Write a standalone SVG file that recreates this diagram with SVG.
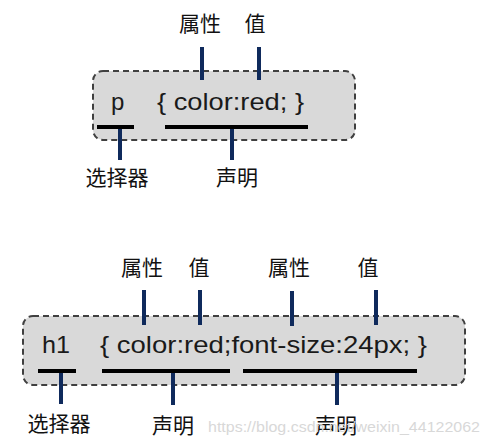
<svg xmlns="http://www.w3.org/2000/svg" width="489" height="445" viewBox="0 0 489 445">
<style>
.box{fill:#d9d9d9;stroke:#404040;stroke-width:2;stroke-dasharray:6 4}
.code{font-family:"Liberation Sans",Arial,sans-serif;font-size:24px;fill:#1a1a1a}
.lbl{font-family:"Noto Sans CJK SC",sans-serif;font-size:21px;fill:#111}
.nv{stroke:#0f2a5c;stroke-width:4}
.ul{stroke:#000;stroke-width:4}
.wm{font-family:"Liberation Sans",Arial,sans-serif;font-size:15px;fill:#d8d8d8}
</style>
<rect width="489" height="445" fill="#fff"/>
<g id="rule1">
<rect class="box" x="93" y="71" width="262" height="69" rx="10"/>
<text class="code" x="111" y="110">p</text>
<text class="code" x="157" y="110" textLength="147" lengthAdjust="spacingAndGlyphs">{ color:red; }</text>
</g>
<g id="labels1">
<text class="lbl" x="200" y="31" text-anchor="middle">属性</text>
<text class="lbl" x="255" y="31" text-anchor="middle">值</text>
<text class="lbl" x="117" y="185" text-anchor="middle">选择器</text>
<text class="lbl" x="237" y="185" text-anchor="middle">声明</text>
</g>
<g id="rule2">
<rect class="box" x="23" y="316" width="442" height="69" rx="10"/>
<text class="code" x="42" y="353" textLength="28" lengthAdjust="spacingAndGlyphs">h1</text>
<text class="code" x="100" y="353" textLength="327" lengthAdjust="spacingAndGlyphs">{ color:red;font-size:24px; }</text>
</g>
<g id="labels2">
<text class="lbl" x="142" y="275" text-anchor="middle">属性</text>
<text class="lbl" x="199" y="275" text-anchor="middle">值</text>
<text class="lbl" x="289" y="275" text-anchor="middle">属性</text>
<text class="lbl" x="368" y="275" text-anchor="middle">值</text>
<text class="lbl" x="59" y="431" text-anchor="middle">选择器</text>
<text class="lbl" x="173" y="433" text-anchor="middle">声明</text>
<text class="lbl" x="336" y="433" text-anchor="middle">声明</text>
</g>
<g id="connectors">
<line class="nv" x1="202" y1="47" x2="202" y2="80"/>
<line class="nv" x1="259" y1="47" x2="259" y2="80"/>
<line class="ul" x1="97" y1="127" x2="134" y2="127"/>
<line class="ul" x1="165" y1="127" x2="308" y2="127"/>
<line class="nv" x1="120" y1="129" x2="120" y2="160"/>
<line class="nv" x1="232" y1="129" x2="232" y2="160"/>
<line class="nv" x1="144" y1="290" x2="144" y2="325"/>
<line class="nv" x1="200" y1="290" x2="200" y2="325"/>
<line class="nv" x1="292" y1="291" x2="292" y2="326"/>
<line class="nv" x1="376" y1="290" x2="376" y2="325"/>
<line class="ul" x1="38" y1="371" x2="76" y2="371"/>
<line class="ul" x1="102" y1="371" x2="230" y2="371"/>
<line class="ul" x1="243" y1="371" x2="417" y2="371"/>
<line class="nv" x1="61" y1="373" x2="61" y2="404"/>
<line class="nv" x1="173" y1="373" x2="173" y2="405"/>
<line class="nv" x1="337" y1="373" x2="337" y2="405"/>
</g>
<text class="wm" x="208" y="432" textLength="272" lengthAdjust="spacingAndGlyphs">https://blog.csdn.net/weixin_44122062</text>
</svg>
